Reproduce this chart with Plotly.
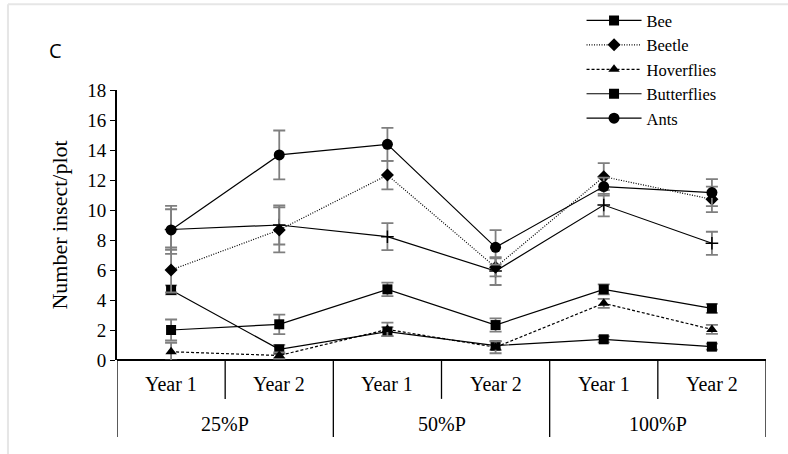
import plotly.graph_objects as go

groups = ["25%P", "50%P", "100%P"]
years = ["Year 1", "Year 2"]
categories = [(g, y) for g in groups for y in years]

bee = [4.67, 0.71, 1.89, 0.96, 1.38, 0.89]
bee_err = [0.3, 0.3, 0.3, 0.3, 0.2, 0.2]
beetle = [6.0, 8.67, 12.33, 6.18, 12.22, 10.71]
beetle_err = [1.5, 1.5, 0.95, 0.6, 0.9, 0.85]
hoverflies = [0.55, 0.3, 2.04, 0.85, 3.78, 2.04]
hoverflies_err = [0.6, 0.2, 0.45, 0.4, 0.3, 0.3]
butterflies = [2.0, 2.38, 4.71, 2.33, 4.71, 3.44]
butterflies_err = [0.7, 0.65, 0.45, 0.44, 0.33, 0.3]
ants = [8.67, 13.67, 14.38, 7.51, 11.56, 11.16]
ants_err = [1.6, 1.63, 1.1, 1.15, 0.6, 0.9]
other = [8.7, 9.0, 8.22, 5.93, 10.33, 7.78]
other_err = [1.35, 1.3, 0.9, 0.93, 0.75, 0.77]

xs = [i + 0.5 for i in range(len(categories))]

SERIF = "Liberation Serif, Times New Roman, serif"
ERR = dict(type="data", visible=True, color="#7f7f7f", thickness=1.8, width=6)

fig = go.Figure()

def add(name, vals, errs, symbol, dash, size, show=True):
    fig.add_trace(go.Scatter(
        x=xs, y=vals, name=name, mode="lines+markers", showlegend=show,
        error_y=dict(array=errs, **ERR),
        line=dict(color="black", width=1.2, dash=dash),
        marker=dict(symbol=symbol, size=size, color="black",
                    line=dict(color="black", width=1.5 if symbol == "cross-thin" else 0)),
    ))

add("other", other, other_err, "cross-thin", "solid", 9, show=False)
add("Bee", bee, bee_err, "square", "solid", 10)
add("Beetle", beetle, beetle_err, "diamond", "1px,1.5px", 10)
add("Hoverflies", hoverflies, hoverflies_err, "triangle-up", "3px,2px", 10)
add("Butterflies", butterflies, butterflies_err, "square", "solid", 10)
add("Ants", ants, ants_err, "circle", "solid", 11)

shapes = []
for i in range(len(categories) + 1):
    long_line = (i % len(years) == 0)
    shapes.append(dict(type="line", xref="x", yref="paper", x0=i, x1=i,
                       y0=0, y1=-0.285 if long_line else -0.144,
                       line=dict(color="black", width=1.3)))
# light frame (top and left)
shapes.append(dict(type="line", xref="paper", yref="paper", x0=-0.168, x1=1.04,
                   y0=1.318, y1=1.318, line=dict(color="#e6e6e6", width=2)))
shapes.append(dict(type="line", xref="paper", yref="paper", x0=-0.168, x1=-0.168,
                   y0=1.318, y1=-0.36, line=dict(color="#e6e6e6", width=2)))

annotations = []
for i, (g, y) in enumerate(categories):
    annotations.append(dict(x=i + 0.5, y=-0.089, xref="x", yref="paper", text=y,
                            xanchor="center", yanchor="middle", showarrow=False,
                            font=dict(family=SERIF, size=20, color="black")))
for j, g in enumerate(groups):
    annotations.append(dict(x=j * 2 + 1, y=-0.237, xref="x", yref="paper", text=g,
                            xanchor="center", yanchor="middle", showarrow=False,
                            font=dict(family=SERIF, size=20, color="black")))
annotations.append(dict(x=-0.0955, y=1.148, xref="paper", yref="paper", text="C",
                        xanchor="center", yanchor="middle", showarrow=False,
                        font=dict(family="Open Sans", size=20, color="black")))

fig.update_layout(
    width=788, height=454,
    margin=dict(l=117, r=22, t=90, b=94, autoexpand=False),
    paper_bgcolor="white", plot_bgcolor="white",
    xaxis=dict(range=[0, 6], showticklabels=False, ticks="", showgrid=False,
               zeroline=False, showline=False),
    yaxis=dict(range=[0, 18], dtick=2, ticks="outside", ticklen=5, tickwidth=1.3,
               tickcolor="black", showline=True, linecolor="black", linewidth=1.8,
               showgrid=False, zeroline=True, zerolinecolor="black", zerolinewidth=2.2,
               tickfont=dict(family=SERIF, size=19, color="black"),
               title=dict(text="Number insect/plot", standoff=14,
                          font=dict(family=SERIF, size=22, color="black"))),
    legend=dict(xref="container", yref="container", x=0.738, y=0.993,
                xanchor="left", yanchor="top", bgcolor="rgba(0,0,0,0)",
                font=dict(family=SERIF, size=16.5, color="black"), tracegroupgap=0,
                itemwidth=55),
    shapes=shapes, annotations=annotations, showlegend=True,
)

fig.write_html("out.html", config={"displayModeBar": False},
               post_script="document.body.style.margin='0';")
